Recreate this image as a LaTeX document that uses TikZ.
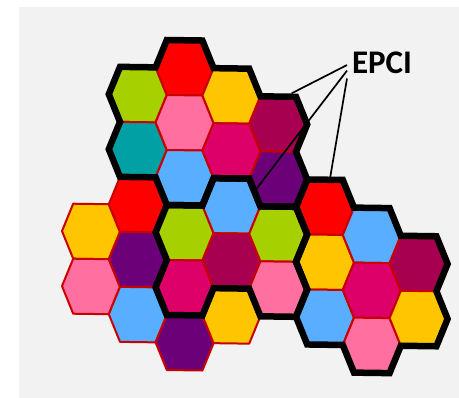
\documentclass[tikz,border=0pt]{standalone}
\usepackage{fontspec}
\setsansfont{Carlito}
\usepackage{tikz}
\usetikzlibrary{calc}
\definecolor{hxback}{RGB}{242,242,242}
\definecolor{hxedge}{RGB}{200,0,0}
\definecolor{hxlime}{RGB}{166,208,0}
\definecolor{hxred}{RGB}{255,0,0}
\definecolor{hxyellow}{RGB}{255,198,0}
\definecolor{hxpink}{RGB}{255,112,160}
\definecolor{hxcrimson}{RGB}{168,0,80}
\definecolor{hxmagenta}{RGB}{220,0,104}
\definecolor{hxpurple}{RGB}{108,0,120}
\definecolor{hxteal}{RGB}{0,160,164}
\definecolor{hxblue}{RGB}{90,174,255}

\begin{document}
\begin{tikzpicture}[x=1pt,y=-1pt,hexcell/.style={draw=hxedge,line width=2pt,line join=round},
epci/.style={draw=black,line width=6.5pt,line join=miter},pointer/.style={black,line width=1.7pt}]

% background
\fill[white] (0,0) rectangle (459,398);
\fill[hxback] (19,7) rectangle (459,398);
\useasboundingbox (0,0) rectangle (459,398);

% cells
\begin{scope}[yslant=-0.0139]
\foreach \c/\q/\clr in {0/6/hxyellow,0/8/hxpink,
  1/1/hxlime,1/3/hxteal,1/5/hxred,1/7/hxpurple,1/9/hxblue,
  2/0/hxred,2/2/hxpink,2/4/hxblue,2/6/hxlime,2/8/hxmagenta,2/10/hxpurple,
  3/1/hxyellow,3/3/hxmagenta,3/5/hxblue,3/7/hxcrimson,3/9/hxyellow,
  4/2/hxcrimson,4/4/hxpurple,4/6/hxlime,4/8/hxpink,
  5/5/hxred,5/7/hxyellow,5/9/hxblue,
  6/6/hxblue,6/8/hxmagenta,6/10/hxpink,
  7/7/hxcrimson,7/9/hxyellow}{
  \pgfmathsetmacro\hx{91+46.8*\c}
  \pgfmathsetmacro\hy{65.2+27.5*\q}
  \coordinate (h\c-\q-e) at (\hx+29,\hy);
  \coordinate (h\c-\q-ne) at (\hx+17.8,\hy-27.5);
  \coordinate (h\c-\q-nw) at (\hx-17.8,\hy-27.5);
  \coordinate (h\c-\q-w) at (\hx-29,\hy);
  \coordinate (h\c-\q-sw) at (\hx-17.8,\hy+27.5);
  \coordinate (h\c-\q-se) at (\hx+17.8,\hy+27.5);
  \path[hexcell,fill=\clr] (h\c-\q-e) -- (h\c-\q-ne) -- (h\c-\q-nw) -- (h\c-\q-w) -- (h\c-\q-sw) -- (h\c-\q-se) -- cycle;
}
\end{scope}

% EPCI outlines
\path[epci] (h1-1-w) -- (h1-1-nw) -- (h1-1-ne) -- (h2-0-nw) -- (h2-0-ne) -- (h2-0-e) -- (h3-1-ne) -- (h3-1-e)
  -- (h4-2-ne) -- (h4-2-e) -- (h4-2-se) -- (h4-4-e) -- (h4-4-se) -- (h4-4-sw) -- (h4-4-w) -- (h3-3-sw)
  -- (h2-4-se) -- (h2-4-sw) -- (h2-4-w) -- (h1-3-sw) -- (h1-3-w) -- (h1-3-nw) -- cycle;
\path[epci] (h2-6-w) -- (h2-6-nw) -- (h2-6-ne) -- (h3-5-nw) -- (h3-5-ne) -- (h3-5-e) -- (h4-6-ne) -- (h4-6-e)
  -- (h4-6-se) -- (h4-8-e) -- (h4-8-se) -- (h4-8-sw) -- (h4-8-w) -- (h3-7-sw) -- (h2-8-se) -- (h2-8-sw)
  -- (h2-8-w) -- (h2-8-nw) -- cycle;
\path[epci] (h5-5-w) -- (h5-5-nw) -- (h5-5-ne) -- (h5-5-e) -- (h6-6-ne) -- (h6-6-e) -- (h7-7-ne) -- (h7-7-e)
  -- (h7-7-se) -- (h7-9-e) -- (h7-9-se) -- (h7-9-sw) -- (h6-10-se) -- (h6-10-sw) -- (h6-10-w) -- (h5-9-sw)
  -- (h5-9-w) -- (h5-9-nw) -- (h5-7-w) -- (h5-7-nw) -- cycle;

% label
\node[font=\sffamily\bfseries\fontsize{33}{33}\selectfont,inner sep=0pt,outer sep=5pt,anchor=base west] (epci) at (347,73.3) {EPCI};
\coordinate (tipa) at (291.7,93.3);
\coordinate (tipb) at (256.7,188.5);
\coordinate (tipc) at (330,178.5);

\draw[pointer] (epci.184) -- (tipa);
\draw[pointer] (epci.193) -- (tipb);
\draw[pointer] (epci.south west) -- (tipc);
\end{tikzpicture}
\end{document}
